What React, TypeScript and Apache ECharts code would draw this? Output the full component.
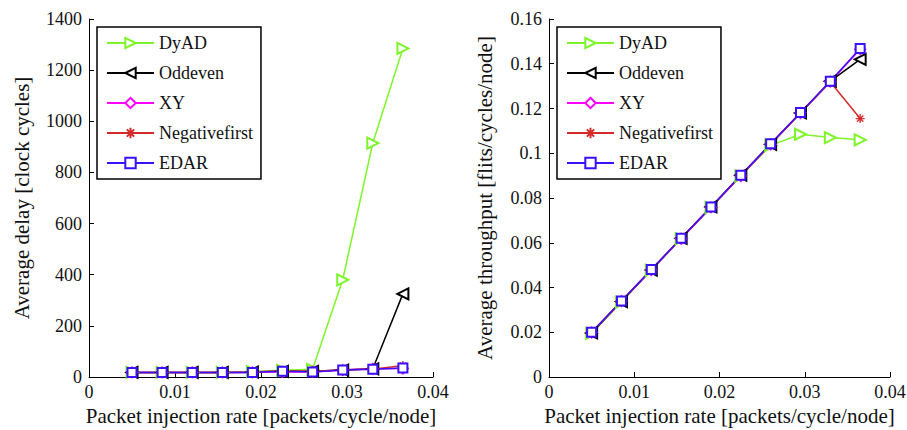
import React, { useEffect, useRef } from "react";
import * as echarts from "echarts";

const xRates = [0.005, 0.0085, 0.012, 0.0155, 0.019, 0.0225, 0.026, 0.0295, 0.033, 0.0365];
const seriesNames = ["DyAD", "Oddeven", "XY", "Negativefirst", "EDAR"];

const delayDyAD = [18, 18, 18, 18, 21, 26, 30, 380, 915, 1285];
const delayOddeven = [18, 18, 18, 18, 19, 22, 22, 27, 32, 325];
const delayXY = [18, 18, 18, 18, 18, 20, 20, 27, 32, 33];
const delayNegativefirst = [18, 18, 18, 18, 20, 23, 22, 28, 30, 45];
const delayEDAR = [18, 18, 18, 18, 18, 22, 20, 27, 30, 35];

const thrDyAD = [0.0195, 0.0335, 0.0478, 0.0618, 0.0758, 0.0898, 0.1035, 0.1085, 0.107, 0.106];
const thrOddeven = [0.0197, 0.0337, 0.0478, 0.062, 0.076, 0.0902, 0.104, 0.118, 0.1322, 0.142];
const thrXY = [0.0199, 0.0339, 0.0478, 0.0618, 0.0758, 0.0898, 0.104, 0.118, 0.132, 0.1465];
const thrNegativefirst = [0.02, 0.034, 0.048, 0.062, 0.076, 0.09, 0.104, 0.118, 0.1318, 0.1155];
const thrEDAR = [0.02, 0.034, 0.048, 0.062, 0.076, 0.0902, 0.1042, 0.1182, 0.1322, 0.1468];

const xTicks = [0, 0.01, 0.02, 0.03, 0.04];

const FONT = "'Liberation Serif', 'Times New Roman', serif";
const ASTERISK = "path://M0,-5L0,5M-5,0L5,0M-3.5,-3.5L3.5,3.5M-3.5,3.5L3.5,-3.5";

const styles = [
  { color: "#7ef52a", symbol: "emptyTriangle", rotate: -90, size: 11 },
  { color: "#000000", symbol: "emptyTriangle", rotate: 90, size: 11 },
  { color: "#ff00ff", symbol: "emptyDiamond", rotate: 0, size: 10 },
  { color: "#d42a2a", symbol: ASTERISK, rotate: 0, size: 9 },
  { color: "#3a10ff", symbol: "emptyRect", rotate: 0, size: 9 },
];

const fmt = (v: number) => String(+v.toFixed(3));

export default function App() {
  const ref = useRef<HTMLDivElement>(null);
  useEffect(() => {
    if (!ref.current) return;
    const chart = echarts.init(ref.current, undefined, { renderer: "svg" });
    const delays = [delayDyAD, delayOddeven, delayXY, delayNegativefirst, delayEDAR];
    const thrs = [thrDyAD, thrOddeven, thrXY, thrNegativefirst, thrEDAR];

    const mkSeries = (idx: number, data: number[][], name: string, i: number) => {
      const s = styles[i];
      return {
        type: "line",
        name,
        xAxisIndex: idx,
        yAxisIndex: idx,
        data,
        symbol: s.symbol,
        symbolSize: s.size,
        symbolRotate: s.rotate,
        showAllSymbol: true,
        lineStyle: { color: s.color, width: 1.5 },
        itemStyle: { color: s.color, borderColor: s.color, borderWidth: 1.3 },
        emphasis: { disabled: true },
      };
    };

    const series: any[] = [];
    seriesNames.forEach((n, i) => {
      series.push(mkSeries(0, xRates.map((x, k) => [x, delays[i][k]]), n, i));
    });
    seriesNames.forEach((n, i) => {
      series.push(mkSeries(1, xRates.map((x, k) => [x, thrs[i][k]]), n, i));
    });

    const labelStyle = { color: "#111", fontFamily: FONT, fontSize: 18 };
    const nameStyle = { color: "#111", fontFamily: FONT, fontSize: 21 };

    const axisCommon = {
      axisLine: { show: true, onZero: false, lineStyle: { color: "#000", width: 1 } },
      axisTick: { show: true, inside: true, length: 5, lineStyle: { color: "#000" } },
      splitLine: { show: false },
      nameTextStyle: { ...nameStyle },
    };

    const xAxis = (gi: number) => ({
      ...axisCommon,
      type: "value",
      gridIndex: gi,
      min: xTicks[0],
      max: xTicks[xTicks.length - 1],
      interval: 0.01,
      name: "Packet injection rate [packets/cycle/node]",
      nameLocation: "middle",
      nameGap: 28,
      axisLabel: { ...labelStyle, margin: 6, formatter: fmt },
    });

    const legend = (left: number) => ({
      data: seriesNames,
      orient: "vertical",
      left,
      top: 27,
      padding: [7, 8, 7, 9],
      itemWidth: 47,
      itemHeight: 13,
      itemGap: 12,
      borderColor: "#000",
      borderWidth: 1.5,
      backgroundColor: "#fff",
      textStyle: { ...labelStyle, padding: [0, 0, 0, 0] },
      selectedMode: false,
    });

    chart.setOption({
      animation: false,
      backgroundColor: "#fff",
      textStyle: { fontFamily: FONT, fontSize: 18 },
      grid: [
        { left: 89, top: 19, width: 344, height: 358, outerBoundsMode: "none", containLabel: false },
        { left: 549, top: 19, width: 341, height: 358, outerBoundsMode: "none", containLabel: false },
      ],
      xAxis: [xAxis(0), xAxis(1)],
      yAxis: [
        {
          ...axisCommon,
          type: "value",
          gridIndex: 0,
          min: 0,
          max: 1400,
          interval: 200,
          name: "Average delay [clock cycles]",
          nameLocation: "middle",
          nameGap: 57,
          axisLabel: { ...labelStyle, margin: 7, formatter: fmt },
        },
        {
          ...axisCommon,
          type: "value",
          gridIndex: 1,
          min: 0,
          max: 0.16,
          interval: 0.02,
          name: "Average throughput [flits/cycles/node]",
          nameLocation: "middle",
          nameGap: 54,
          axisLabel: { ...labelStyle, margin: 7, formatter: fmt },
        },
      ],
      legend: [legend(97), legend(557)],
      series,
    });
    return () => chart.dispose();
  }, []);
  return (
    <div
      ref={ref}
      style={{ position: "fixed", left: 0, top: 0, width: 907, height: 430, background: "#fff" }}
    />
  );
}
